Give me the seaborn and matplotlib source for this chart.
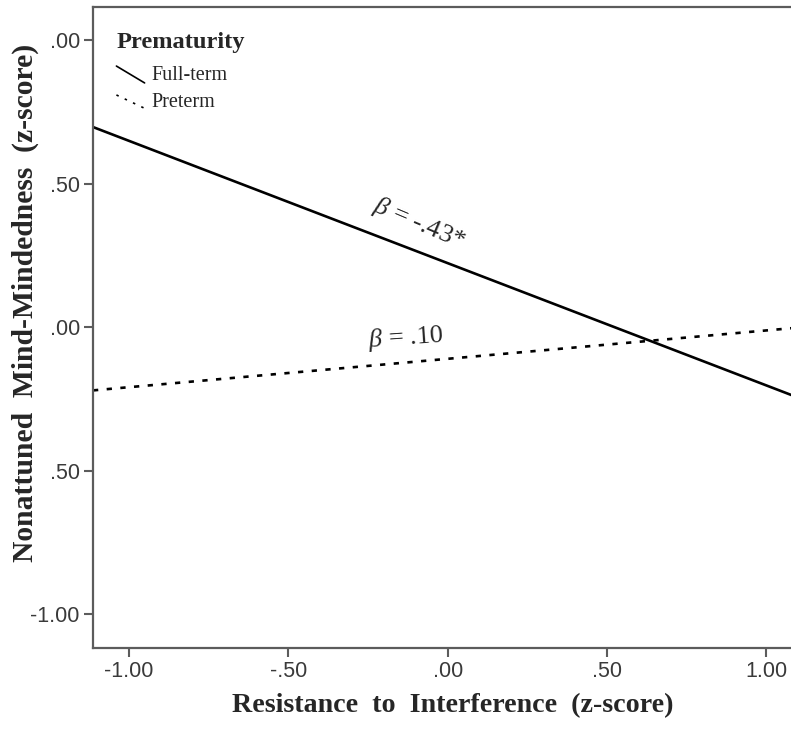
import numpy as np
import pandas as pd
import matplotlib
matplotlib.use("Agg")
import matplotlib.pyplot as plt
import seaborn as sns
from matplotlib.lines import Line2D
from matplotlib.legend_handler import HandlerBase

# ---- data ----
x_vals = [-1.113, 1.113]
fullterm_y = [0.697, -0.251]
preterm_y = [-0.220, 0.000]
groups = ["Full-term", "Preterm"]
x_ticks = [-1.0, -0.5, 0.0, 0.5, 1.0]
x_ticklabels = ["-1.00", "-.50", ".00", ".50", "1.00"]
y_ticks = [-1.0, -0.5, 0.0, 0.5, 1.0]
y_ticklabels = ["-1.00", ".50", ".00", ".50", ".00"]
beta_labels = [r"$\beta$ = -.43*", r"$\beta$ = .10"]
beta_pos = [(-0.091, 0.360), (-0.132, -0.038)]

df = pd.DataFrame({
    "x": x_vals * 2,
    "y": fullterm_y + preterm_y,
    "Prematurity": [groups[0]] * 2 + [groups[1]] * 2,
})

sns.set_style("ticks")
plt.rcParams["font.family"] = ["Liberation Serif", "DejaVu Serif"]
plt.rcParams["mathtext.fontset"] = "custom"
plt.rcParams["mathtext.it"] = "Liberation Serif:italic"
plt.rcParams["mathtext.rm"] = "Liberation Serif"

fig = plt.figure(figsize=(7.91, 7.32), dpi=100)
W, H = 791, 732
left_px, right_px, top_px, bot_px = 93, 802.5, 7, 648
ax = fig.add_axes([left_px / W, (H - bot_px) / H, (right_px - left_px) / W, (bot_px - top_px) / H])

spine_col = "#5c5c5c"
dash_map = {"Full-term": "", "Preterm": (2, 3.2)}
sns.lineplot(data=df, x="x", y="y", style="Prematurity", dashes=dash_map,
             color="black", linewidth=1.9, legend=False, ax=ax)

ax.set_xlim(-1.113, 1.113)
ax.set_ylim(-1.117, 1.115)
ax.set_xticks(x_ticks)
ax.set_xticklabels(x_ticklabels)
ax.set_yticks(y_ticks)
ax.set_yticklabels(y_ticklabels)
ax.tick_params(axis="both", direction="out", length=6.5, width=1.5, color=spine_col,
               labelsize=15.5, labelcolor="#3a3a3a", pad=3)
for lab in ax.get_xticklabels() + ax.get_yticklabels():
    lab.set_fontfamily("Liberation Sans")
for s in ax.spines.values():
    s.set_color(spine_col)
    s.set_linewidth(1.6)

ax.set_xlabel("Resistance  to  Interference  (z-score)", fontsize=20.2, fontweight="bold")
ax.set_ylabel("Nonattuned  Mind-Mindedness  (z-score)", fontsize=21.3, fontweight="bold")
ax.xaxis.set_label_coords((453 - left_px) / (right_px - left_px), -(706 - bot_px) / (bot_px - top_px))
ax.yaxis.set_label_coords(-(left_px - 25) / (right_px - left_px), (bot_px - 303) / (bot_px - top_px))
ax.xaxis.label.set_va("center")
ax.yaxis.label.set_va("center")

ax.text(beta_pos[0][0], beta_pos[0][1], beta_labels[0], fontsize=19, rotation=-23,
        rotation_mode="anchor", ha="center", va="center")
ax.text(beta_pos[1][0], beta_pos[1][1], beta_labels[1], fontsize=19, rotation=4,
        rotation_mode="anchor", ha="center", va="center")


class DiagHandler(HandlerBase):
    def create_artists(self, legend, orig_handle, xdescent, ydescent, width, height, fontsize, trans):
        slope = 1.0 if orig_handle.get_label() == "Full-term" else 0.75
        line = Line2D([-xdescent, -xdescent + width],
                      [-ydescent + height * (0.5 + 0.5 * slope), -ydescent + height * (0.5 - 0.5 * slope) - 2])
        line.set_color("black")
        line.set_linewidth(1.2)
        if orig_handle.get_label() == "Preterm":
            line.set_dashes((1.5, 4))
        line.set_transform(trans)
        return [line]


handles = [Line2D([], [], color="black", label=groups[0]),
           Line2D([], [], color="black", label=groups[1])]
leg = ax.legend(handles=handles, labels=groups, title="Prematurity", loc="upper left",
                bbox_to_anchor=(0.033, 0.961), frameon=False, fontsize=14.5,
                title_fontproperties={"weight": "bold", "size": 17.6, "family": "Liberation Serif"},
                handler_map={Line2D: DiagHandler()}, handlelength=1.4, handletextpad=0.35,
                labelspacing=0.4, borderpad=0.0, borderaxespad=0.0)
leg._legend_box.align = "left"
leg._legend_box.sep = 9.4

fig.savefig("out.png", dpi=100, facecolor="white")
